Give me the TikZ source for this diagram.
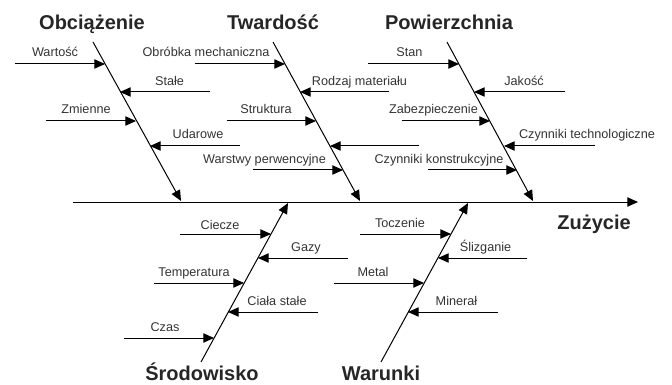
\documentclass[tikz,border=0pt]{standalone}
\usepackage{fontspec}
\setmainfont{Liberation Sans}
\usetikzlibrary{arrows.meta}
\definecolor{texte}{HTML}{333333}
\tikzset{
  lbl/.style={text=texte, font=\fontsize{9.5}{11}\selectfont, inner sep=0pt, anchor=base},
  head/.style={text=black!85, font=\fontsize{15}{18}\selectfont\bfseries, inner sep=0pt, anchor=base},
  fleche/.style={-{Triangle[length=8pt,width=7pt]}},
}
\begin{document}
\begin{tikzpicture}[x=0.75pt, y=-0.75pt, line width=0.75pt]
\useasboundingbox (0,0) rectangle (672,385);
% spine
\coordinate (S1) at (73,202) ;
\coordinate (S2) at (638,202) ;
\draw[fleche] (S1) -- (S2) ;
\node[head] (zuz) at (594,229) {Zużycie} ;
%% bone Obciazenie
\begin{scope}
\coordinate (O1) at (93,42) ;
\coordinate (O2) at (181,201) ;
\draw[fleche] (O1) -- (O2) ;
\node[head] (obc) at (92,30) {Obciążenie} ;
\coordinate (Oa1) at (15,64) ;  \coordinate (Oa2) at (105,64) ;
\coordinate (Ob1) at (210,92) ; \coordinate (Ob2) at (120,92) ;
\coordinate (Oc1) at (46,121) ; \coordinate (Oc2) at (136,121) ;
\coordinate (Od1) at (240,146) ; \coordinate (Od2) at (150,146) ;
\draw[fleche] (Oa1) -- (Oa2) ;
\draw[fleche] (Ob1) -- (Ob2) ;
\draw[fleche] (Oc1) -- (Oc2) ;
\draw[fleche] (Od1) -- (Od2) ;
\node[lbl] (wart) at (55,57) {Wartość} ;
\node[lbl] (stale) at (169.5,86) {Stałe} ;
\node[lbl] (zmie) at (86,114) {Zmienne} ;
\node[lbl] (udar) at (198,139) {Udarowe} ;
\end{scope}
%% bone Twardosc
\begin{scope}
\coordinate (T1) at (273,42) ;
\coordinate (T2) at (360,201) ;
\draw[fleche] (T1) -- (T2) ;
\node[head] (tw) at (273,30) {Twardość} ;
\coordinate (Ta1) at (195,64) ;  \coordinate (Ta2) at (285,64) ;
\coordinate (Tb1) at (389,92) ;  \coordinate (Tb2) at (300,92) ;
\coordinate (Tc1) at (227,121) ; \coordinate (Tc2) at (316,121) ;
\coordinate (Td1) at (419,146) ; \coordinate (Td2) at (330,146) ;
\coordinate (Te1) at (253,170) ; \coordinate (Te2) at (343,170) ;
\draw[fleche] (Ta1) -- (Ta2) ;
\draw[fleche] (Tb1) -- (Tb2) ;
\draw[fleche] (Tc1) -- (Tc2) ;
\draw[fleche] (Td1) -- (Td2) ;
\draw[fleche] (Te1) -- (Te2) ;
\node[lbl] (obr) at (206,57) {Obróbka mechaniczna} ;
\node[lbl] (rodz) at (359.5,86) {Rodzaj materiału} ;
\node[lbl] (strk) at (266,114) {Struktura} ;
\node[lbl] (warst) at (264.5,163) {Warstwy perwencyjne} ;
\end{scope}
%% bone Powierzchnia
\begin{scope}
\coordinate (P1) at (447,42) ;
\coordinate (P2) at (533,201) ;
\draw[fleche] (P1) -- (P2) ;
\node[head] (pow) at (449,30) {Powierzchnia} ;
\coordinate (Pa1) at (368,64) ;  \coordinate (Pa2) at (459,64) ;
\coordinate (Pb1) at (565,92) ;  \coordinate (Pb2) at (474,92) ;
\coordinate (Pc1) at (402,121) ; \coordinate (Pc2) at (490,121) ;
\coordinate (Pd1) at (595,146) ; \coordinate (Pd2) at (504,146) ;
\coordinate (Pe1) at (428,170) ; \coordinate (Pe2) at (517,170) ;
\draw[fleche] (Pa1) -- (Pa2) ;
\draw[fleche] (Pb1) -- (Pb2) ;
\draw[fleche] (Pc1) -- (Pc2) ;
\draw[fleche] (Pd1) -- (Pd2) ;
\draw[fleche] (Pe1) -- (Pe2) ;
\node[lbl] (stan) at (409.5,57) {Stan} ;
\node[lbl] (jak) at (524,86) {Jakość} ;
\node[lbl] (zab) at (433.5,114) {Zabezpieczenie} ;
\node[lbl] (tech) at (587,139) {Czynniki technologiczne} ;
\node[lbl] (konst) at (439,163) {Czynniki konstrukcyjne} ;
\end{scope}
%% bone Srodowisko
\begin{scope}
\coordinate (R1) at (201,362) ;
\coordinate (R2) at (288,203) ;
\draw[fleche] (R1) -- (R2) ;
\node[head] (srod) at (202,380) {Środowisko} ;
\coordinate (Ra1) at (180,234) ; \coordinate (Ra2) at (271,234) ;
\coordinate (Rb1) at (348,258) ; \coordinate (Rb2) at (258,258) ;
\coordinate (Rc1) at (154,283) ; \coordinate (Rc2) at (244,283) ;
\coordinate (Rd1) at (318,312) ; \coordinate (Rd2) at (228,312) ;
\coordinate (Re1) at (124,338) ; \coordinate (Re2) at (214,338) ;
\draw[fleche] (Ra1) -- (Ra2) ;
\draw[fleche] (Rb1) -- (Rb2) ;
\draw[fleche] (Rc1) -- (Rc2) ;
\draw[fleche] (Rd1) -- (Rd2) ;
\draw[fleche] (Re1) -- (Re2) ;
\node[lbl] (ciec) at (220,229) {Ciecze} ;
\node[lbl] (gazy) at (306,251) {Gazy} ;
\node[lbl] (temp) at (194,276) {Temperatura} ;
\node[lbl] (ciala) at (277,305) {Ciała stałe} ;
\node[lbl] (czas) at (165,331) {Czas} ;
\end{scope}
%% bone Warunki
\begin{scope}
\coordinate (W1) at (381,362) ;
\coordinate (W2) at (468,203) ;
\draw[fleche] (W1) -- (W2) ;
\node[head] (war) at (381,380) {Warunki} ;
\coordinate (Wa1) at (360,234) ; \coordinate (Wa2) at (451,234) ;
\coordinate (Wb1) at (527,258) ; \coordinate (Wb2) at (438,258) ;
\coordinate (Wc1) at (334,283) ; \coordinate (Wc2) at (424,283) ;
\coordinate (Wd1) at (498,312) ; \coordinate (Wd2) at (408,312) ;
\draw[fleche] (Wa1) -- (Wa2) ;
\draw[fleche] (Wb1) -- (Wb2) ;
\draw[fleche] (Wc1) -- (Wc2) ;
\draw[fleche] (Wd1) -- (Wd2) ;
\node[lbl] (tocz) at (400,227) {Toczenie} ;
\node[lbl] (sliz) at (485.5,251) {Ślizganie} ;
\node[lbl] (metal) at (373,276) {Metal} ;
\node[lbl] (min) at (456.5,305) {Minerał} ;
\end{scope}
\end{tikzpicture}
\end{document}
